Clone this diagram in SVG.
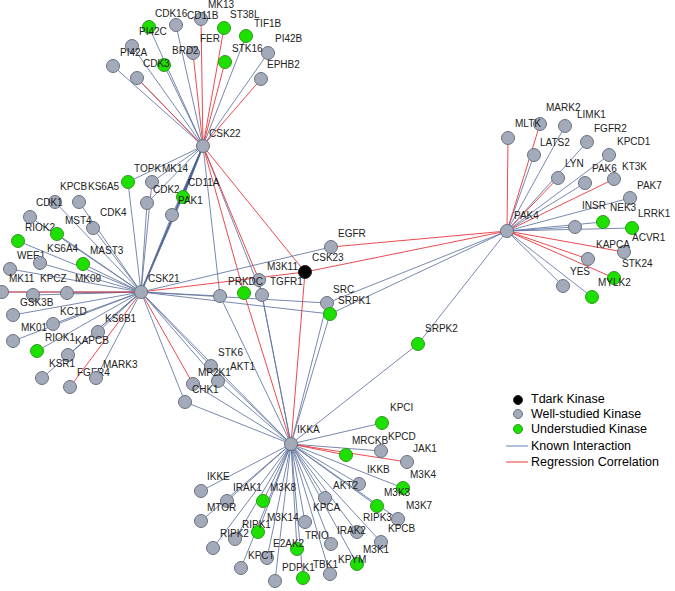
<svg xmlns="http://www.w3.org/2000/svg" width="675" height="591" viewBox="0 0 675 591">
<style>
.k{stroke:#5f73a0;stroke-width:1;stroke-opacity:.85;fill:none}
.kt{stroke:#4f6390;stroke-width:1.8;fill:none}
.r{stroke:#e8373c;stroke-width:.9;fill:none}
.w{fill:#a3abbb;stroke:#6a717d;stroke-width:1}
.g{fill:#1ee000;stroke:#2c9a1c;stroke-width:1}
.b{fill:#000;stroke:#222;stroke-width:1}
text{font-family:"Liberation Sans",Arial,sans-serif;font-size:10px;fill:#222}
.lg{font-size:12.5px;fill:#000}
</style>
<rect width="675" height="591" fill="#fff"/>
<g id="connectors">
<path class="k" d="M203 146L149 27M203 146L176 25M203 146L246 36M203 146L268 53M203 146L132 46M203 146L113 66M203 146L137 78M203 146L164 65M203 146L128 182M203 146L152 182M203 146L147 203M203 146L172 215M203 146L220 296M203 146L262 295"/>
<path class="kt" d="M203 146L141 292M203 146L183 197"/>
<path class="r" d="M203 146L201 19M203 146L224 28M203 146L193 53M203 146L225 62M203 146L261 79M203 146L137 78M203 146L305 272M203 146L244 293M203 146L259 280"/>
<path class="k" d="M141 292L128 182M141 292L152 182M141 292L147 203M141 292L183 197M141 292L172 215M141 292L79 202M141 292L55 202M141 292L30 217M141 292L57 234M141 292L93 228M141 292L18 241M141 292L40 263M141 292L83 264M141 292L10 269M141 292L2 292M141 292L33 295M141 292L67 293M141 292L13 315M141 292L53 324M141 292L13 341M141 292L37 351M141 292L98 332M141 292L68 355M141 292L42 378M141 292L96 378M141 292L211 366M141 292L218 381M141 292L185 402M141 292L331 247M141 292L220 296M141 292L327 303M141 292L330 314M141 292L291 444"/>
<path class="r" d="M141 292L2 292M141 292L70 387M141 292L193 384M141 292L305 272"/>
<path class="k" d="M507 231L565 126M507 231L587 142M507 231L534 155M507 231L609 155M507 231L585 183M507 231L630 198M507 231L603 222M507 231L575 227M507 231L632 228M507 231L563 286M507 231L592 297M507 231L327 303M507 231L330 314M507 231L418 344"/>
<path class="r" d="M507 231L540 124M507 231L508 138M507 231L558 178M507 231L614 179M507 231L624 252M507 231L588 259M507 231L614 278M507 231L331 247M507 231L305 272"/>
<path class="k" d="M291 444L382 423M291 444L381 451M291 444L201 491M291 444L227 501M291 444L263 501M291 444L201 521M291 444L325 498M291 444L359 484M291 444L403 488M291 444L377 506M291 444L398 519M291 444L305 522M291 444L258 532M291 444L235 539M291 444L213 548M291 444L331 544M291 444L357 532M291 444L381 542M291 444L297 549M291 444L267 558M291 444L241 568M291 444L303 578M291 444L330 574M291 444L357 564M291 444L275 581M291 444L211 366M291 444L218 381M291 444L193 384M291 444L185 402M291 444L220 296M291 444L327 303M291 444L330 314M291 444L418 344M291 444L262 295M291 444L259 280"/>
<path class="r" d="M291 444L346 455M291 444L407 462M291 444L244 293M291 444L305 272"/>
</g>
<g id="CSK22"><circle class="w" cx="203" cy="146" r="6.5"/><text x="209" y="137">CSK22</text></g>
<g id="CSK21"><circle class="w" cx="141" cy="292" r="6.5"/><text x="148" y="282">CSK21</text></g>
<g id="PAK4"><circle class="w" cx="507" cy="231" r="6.5"/><text x="514" y="219">PAK4</text></g>
<g id="IKKA"><circle class="w" cx="291" cy="444" r="6.5"/><text x="297" y="433">IKKA</text></g>
<g id="M3K11"><circle class="b" cx="305" cy="272" r="6.5"/><text x="267" y="270">M3K11</text></g>
<g id="PI42C"><circle class="g" cx="149" cy="27" r="6.5"/><text x="139" y="35">PI42C</text></g>
<g id="CDK16"><circle class="w" cx="176" cy="25" r="6.5"/><text x="155" y="17">CDK16</text></g>
<g id="CD11B"><circle class="w" cx="201" cy="19" r="6.5"/><text x="187" y="19">CD11B</text></g>
<g id="MK13"><text x="208" y="8">MK13</text></g>
<g id="ST38L"><circle class="g" cx="224" cy="28" r="6.5"/><text x="230" y="18">ST38L</text></g>
<g id="TIF1B"><circle class="g" cx="246" cy="36" r="6.5"/><text x="254" y="27">TIF1B</text></g>
<g id="FER"><circle class="g" cx="225" cy="62" r="6.5"/><text x="200" y="42">FER</text></g>
<g id="STK16"><circle class="w" cx="268" cy="53" r="6.5"/><text x="232" y="52">STK16</text></g>
<g id="PI42B"><text x="275" y="42">PI42B</text></g>
<g id="EPHB2"><circle class="w" cx="261" cy="79" r="6.5"/><text x="267" y="68">EPHB2</text></g>
<g id="PI42A"><circle class="w" cx="132" cy="46" r="6.5"/><text x="120" y="56">PI42A</text></g>
<g id="n113_66"><circle class="w" cx="113" cy="66" r="6.5"/></g>
<g id="n137_78"><circle class="w" cx="137" cy="78" r="6.5"/></g>
<g id="BRD2"><circle class="w" cx="193" cy="53" r="6.5"/><text x="172" y="54">BRD2</text></g>
<g id="CDK3"><circle class="g" cx="164" cy="65" r="6.5"/><text x="143" y="67">CDK3</text></g>
<g id="TOPK"><circle class="g" cx="128" cy="182" r="6.5"/><text x="134" y="172">TOPK</text></g>
<g id="MK14"><circle class="w" cx="152" cy="182" r="6.5"/><text x="162" y="172">MK14</text></g>
<g id="CDK2"><circle class="w" cx="147" cy="203" r="6.5"/><text x="153" y="193">CDK2</text></g>
<g id="PAK1"><circle class="g" cx="183" cy="197" r="6.5"/><text x="178" y="204">PAK1</text></g>
<g id="CD11A"><circle class="w" cx="172" cy="215" r="6.5"/><text x="188" y="186">CD11A</text></g>
<g id="KS6A5"><circle class="w" cx="79" cy="202" r="6.5"/><text x="60" y="190">KPCB</text><text x="88" y="190">KS6A5</text></g>
<g id="CDK1"><circle class="w" cx="55" cy="202" r="6.5"/><text x="36" y="206">CDK1</text></g>
<g id="RIOK2"><circle class="w" cx="30" cy="217" r="6.5"/><text x="25" y="231">RIOK2</text></g>
<g id="KS6A4"><circle class="g" cx="57" cy="234" r="6.5"/><text x="47" y="252">KS6A4</text></g>
<g id="MST4"><circle class="w" cx="93" cy="228" r="6.5"/><text x="65" y="224">MST4</text></g>
<g id="CDK4"><text x="100" y="216">CDK4</text></g>
<g id="WEE1"><circle class="g" cx="18" cy="241" r="6.5"/><text x="17" y="259">WEE1</text></g>
<g id="KPCZ"><circle class="w" cx="40" cy="263" r="6.5"/><text x="40" y="282">KPCZ</text></g>
<g id="MAST3"><circle class="g" cx="83" cy="264" r="6.5"/><text x="90" y="254">MAST3</text></g>
<g id="MK09"><text x="75" y="282">MK09</text></g>
<g id="MK11"><circle class="w" cx="10" cy="269" r="6.5"/><text x="9" y="282">MK11</text></g>
<g id="n2_292"><circle class="w" cx="2" cy="292" r="6.5"/></g>
<g id="GSK3B"><circle class="w" cx="33" cy="295" r="6.5"/><text x="20" y="306">GSK3B</text></g>
<g id="n67_293"><circle class="w" cx="67" cy="293" r="6.5"/></g>
<g id="KC1D"><circle class="w" cx="53" cy="324" r="6.5"/><text x="60" y="315">KC1D</text></g>
<g id="MK01"><circle class="w" cx="13" cy="315" r="6.5"/><text x="21" y="331">MK01</text></g>
<g id="n13_341"><circle class="w" cx="13" cy="341" r="6.5"/></g>
<g id="RIOK1"><circle class="g" cx="37" cy="351" r="6.5"/><text x="45" y="341">RIOK1</text></g>
<g id="KS6B1"><circle class="w" cx="98" cy="332" r="6.5"/><text x="105" y="322">KS6B1</text></g>
<g id="KAPCB"><circle class="w" cx="68" cy="355" r="6.5"/><text x="75" y="344">KAPCB</text></g>
<g id="KSR1"><circle class="w" cx="42" cy="378" r="6.5"/><text x="49" y="367">KSR1</text></g>
<g id="FGFR4"><circle class="w" cx="70" cy="387" r="6.5"/><text x="77" y="376">FGFR4</text></g>
<g id="MARK3"><circle class="w" cx="96" cy="378" r="6.5"/><text x="103" y="368">MARK3</text></g>
<g id="STK6"><circle class="w" cx="211" cy="366" r="6.5"/><text x="218" y="356">STK6</text></g>
<g id="AKT1"><circle class="w" cx="218" cy="381" r="6.5"/><text x="198" y="376">MP2K1</text><text x="230" y="370">AKT1</text></g>
<g id="CHK1"><circle class="w" cx="193" cy="384" r="6.5"/><text x="192" y="393">CHK1</text></g>
<g id="n185_402"><circle class="w" cx="185" cy="402" r="6.5"/></g>
<g id="n220_296"><circle class="w" cx="220" cy="296" r="6.5"/></g>
<g id="n259_280"><circle class="w" cx="259" cy="280" r="6.5"/></g>
<g id="PRKDC"><circle class="g" cx="244" cy="293" r="6.5"/><text x="228" y="285">PRKDC</text></g>
<g id="TGFR1"><circle class="w" cx="262" cy="295" r="6.5"/><text x="270" y="285">TGFR1</text></g>
<g id="CSK23"><circle class="w" cx="331" cy="247" r="6.5"/><text x="338" y="237">EGFR</text><text x="312" y="261">CSK23</text></g>
<g id="SRC"><circle class="w" cx="327" cy="303" r="6.5"/><text x="333" y="293">SRC</text></g>
<g id="SRPK1"><circle class="g" cx="330" cy="314" r="6.5"/><text x="338" y="304">SRPK1</text></g>
<g id="SRPK2"><circle class="g" cx="418" cy="344" r="6.5"/><text x="425" y="332">SRPK2</text></g>
<g id="MLTK"><circle class="w" cx="540" cy="124" r="6.5"/><text x="515" y="127">MLTK</text></g>
<g id="MARK2"><circle class="w" cx="565" cy="126" r="6.5"/><text x="546" y="111">MARK2</text><text x="577" y="118">LIMK1</text></g>
<g id="n508_138"><circle class="w" cx="508" cy="138" r="6.5"/></g>
<g id="FGFR2"><circle class="w" cx="587" cy="142" r="6.5"/><text x="594" y="132">FGFR2</text></g>
<g id="LATS2"><circle class="w" cx="534" cy="155" r="6.5"/><text x="540" y="146">LATS2</text></g>
<g id="KPCD1"><circle class="w" cx="609" cy="155" r="6.5"/><text x="617" y="145">KPCD1</text></g>
<g id="LYN"><circle class="w" cx="558" cy="178" r="6.5"/><text x="565" y="167">LYN</text></g>
<g id="PAK6"><circle class="w" cx="585" cy="183" r="6.5"/><text x="592" y="172">PAK6</text></g>
<g id="KT3K"><circle class="w" cx="614" cy="179" r="6.5"/><text x="622" y="170">KT3K</text></g>
<g id="PAK7"><circle class="w" cx="630" cy="198" r="6.5"/><text x="637" y="189">PAK7</text></g>
<g id="INSR"><circle class="g" cx="603" cy="222" r="6.5"/><text x="582" y="209">INSR</text></g>
<g id="NEK3"><circle class="w" cx="575" cy="227" r="6.5"/><text x="610" y="211">NEK3</text></g>
<g id="LRRK1"><text x="638" y="217">LRRK1</text></g>
<g id="ACVR1"><circle class="g" cx="632" cy="228" r="6.5"/><text x="632" y="241">ACVR1</text></g>
<g id="KAPCA"><circle class="w" cx="624" cy="252" r="6.5"/><text x="596" y="248">KAPCA</text><text x="622" y="267">STK24</text></g>
<g id="YES"><circle class="w" cx="588" cy="259" r="6.5"/><text x="570" y="275">YES</text></g>
<g id="MYLK2"><circle class="g" cx="614" cy="278" r="6.5"/><text x="598" y="286">MYLK2</text></g>
<g id="n563_286"><circle class="w" cx="563" cy="286" r="6.5"/></g>
<g id="n592_297"><circle class="g" cx="592" cy="297" r="6.5"/></g>
<g id="KPCI"><circle class="g" cx="382" cy="423" r="6.5"/><text x="390" y="411">KPCI</text></g>
<g id="MRCKB"><circle class="g" cx="346" cy="455" r="6.5"/><text x="352" y="444">MRCKB</text></g>
<g id="KPCD"><circle class="w" cx="381" cy="451" r="6.5"/><text x="388" y="440">KPCD</text></g>
<g id="JAK1"><text x="413" y="452">JAK1</text></g>
<g id="M3K4"><circle class="w" cx="407" cy="462" r="6.5"/><text x="410" y="478">M3K4</text></g>
<g id="IKKB"><text x="367" y="473">IKKB</text></g>
<g id="IKKE"><circle class="w" cx="201" cy="491" r="6.5"/><text x="207" y="480">IKKE</text></g>
<g id="IRAK1"><circle class="w" cx="227" cy="501" r="6.5"/><text x="233" y="491">IRAK1</text></g>
<g id="M3K8"><circle class="g" cx="263" cy="501" r="6.5"/><text x="270" y="491">M3K8</text></g>
<g id="MTOR"><circle class="w" cx="201" cy="521" r="6.5"/><text x="207" y="511">MTOR</text></g>
<g id="KPCA"><circle class="w" cx="325" cy="498" r="6.5"/><text x="313" y="511">KPCA</text></g>
<g id="AKT2"><circle class="w" cx="359" cy="484" r="6.5"/><text x="333" y="489">AKT2</text></g>
<g id="M3K3"><circle class="g" cx="403" cy="488" r="6.5"/><text x="384" y="496">M3K3</text><text x="406" y="509">M3K7</text></g>
<g id="RIPK3"><circle class="g" cx="377" cy="506" r="6.5"/><text x="363" y="521">RIPK3</text></g>
<g id="KPCB"><circle class="w" cx="398" cy="519" r="6.5"/><text x="388" y="532">KPCB</text></g>
<g id="M3K14"><circle class="w" cx="305" cy="522" r="6.5"/><text x="267" y="521">M3K14</text></g>
<g id="RIPK1"><circle class="g" cx="258" cy="532" r="6.5"/><text x="242" y="528">RIPK1</text></g>
<g id="RIPK2"><circle class="w" cx="235" cy="539" r="6.5"/><text x="220" y="537">RIPK2</text></g>
<g id="n213_548"><circle class="w" cx="213" cy="548" r="6.5"/></g>
<g id="TRIO"><circle class="w" cx="331" cy="544" r="6.5"/><text x="305" y="539">TRIO</text></g>
<g id="IRAK2"><circle class="w" cx="357" cy="532" r="6.5"/><text x="337" y="534">IRAK2</text></g>
<g id="M3K1"><circle class="w" cx="381" cy="542" r="6.5"/><text x="363" y="553">M3K1</text></g>
<g id="E2AK2"><circle class="g" cx="297" cy="549" r="6.5"/><text x="273" y="547">E2AK2</text></g>
<g id="KPCT"><circle class="w" cx="267" cy="558" r="6.5"/><text x="248" y="559">KPCT</text></g>
<g id="n241_568"><circle class="w" cx="241" cy="568" r="6.5"/></g>
<g id="PDPK1"><circle class="g" cx="303" cy="578" r="6.5"/><text x="282" y="571">PDPK1</text></g>
<g id="TBK1"><circle class="w" cx="330" cy="574" r="6.5"/><text x="313" y="568">TBK1</text></g>
<g id="KPYM"><circle class="g" cx="357" cy="564" r="6.5"/><text x="338" y="563">KPYM</text></g>
<g id="n275_581"><circle class="w" cx="275" cy="581" r="6.5"/></g>
<g id="legend">
<circle class="b" cx="518" cy="400" r="4.5"/><text class="lg" x="531" y="403">Tdark Kinase</text>
<circle class="w" cx="518" cy="414" r="4.5"/><text class="lg" x="531" y="418">Well-studied Kinase</text>
<circle class="g" cx="518" cy="429" r="4.5"/><text class="lg" x="531" y="433">Understudied Kinase</text>
<line x1="506" y1="446" x2="528" y2="446" stroke="#5a82c0" stroke-width="1"/><text class="lg" x="531" y="450">Known Interaction</text>
<line x1="506" y1="462" x2="528" y2="462" stroke="#e8373c" stroke-width="1"/><text class="lg" x="531" y="466">Regression Correlation</text>
</g>
</svg>
